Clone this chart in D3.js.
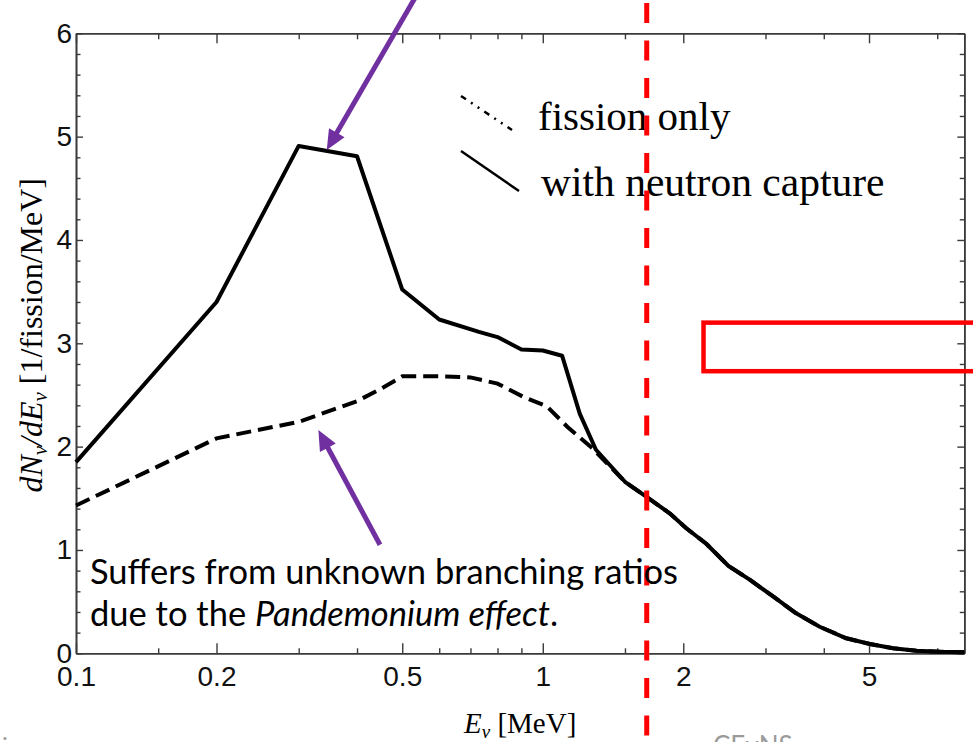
<!DOCTYPE html>
<html>
<head>
<meta charset="utf-8">
<script src="https://cdn.jsdelivr.net/npm/d3@7"></script>
<style>
  body { margin: 0; background: #fff; }
  svg { display: block; }
</style>
</head>
<body>
<script>
// neutrino spectrum
const energyCapture = [0.1, 0.2, 0.3, 0.4, 0.5, 0.6, 0.73, 0.8, 0.9, 1.0, 1.1, 1.2, 1.3, 1.5, 1.66, 1.87, 2.03, 2.24, 2.5, 2.78, 3.12, 3.49, 3.92, 4.47, 5.02, 5.63, 6.32, 7.09, 8.0]
const fluxCapture = [1.85, 3.40, 4.91, 4.81, 3.52, 3.23, 3.11, 3.06, 2.94, 2.93, 2.88, 2.32, 1.97, 1.66, 1.52, 1.355, 1.21, 1.06, 0.845, 0.71, 0.548, 0.387, 0.257, 0.145, 0.09, 0.048, 0.025, 0.015, 0.01]

const energyFission = [0.1, 0.2, 0.3, 0.4, 0.45, 0.5, 0.6, 0.7, 0.8, 0.91, 1.02, 1.13, 1.28, 1.5, 1.66, 1.87, 2.03, 2.24, 2.5, 2.78, 3.12, 3.49, 3.92, 4.47, 5.02, 5.63, 6.32, 7.09, 8.0]
const fluxFission = [1.43, 2.08, 2.24, 2.44, 2.56, 2.68, 2.68, 2.67, 2.61, 2.48, 2.39, 2.19, 1.98, 1.66, 1.52, 1.355, 1.21, 1.06, 0.845, 0.71, 0.548, 0.387, 0.257, 0.145, 0.09, 0.048, 0.025, 0.015, 0.01]

const xMajorTicks = [0.1, 0.2, 0.5, 1, 2, 5]
const xMinorTicks = [0.15, 0.3, 0.4, 0.6, 0.7, 0.8, 0.9, 1.5, 3, 4, 7]
const yMajorTicks = [0, 1, 2, 3, 4, 5, 6]
const yMinorTicks = d3.range(0, 30).map(i => i / 5).filter(v => v % 1 !== 0)

const legendLabels = ['fission only', 'with neutron capture']
const noteLines = ['Suffers from unknown branching ratios', 'due to the ']

// annotations in data coordinates
const thresholdE = 1.67
const arrows = [
    { from: [0.532, 6.34], to: [0.3445, 4.87] },
    { from: [0.448, 1.05], to: [0.3306, 2.16] }
]
const boxE = [2.21, 12]
const boxFlux = [2.73, 3.2]

const w = 973
const h = 742
const pLeft = 76
const pRight = 964.3
const pTop = 33.3
const pBottom = 653.3

const x = d3.scaleLog().domain([0.1, 8]).range([pLeft, pRight])
const y = d3.scaleLinear().domain([0, 6]).range([pBottom, pTop])

const svg = d3.select('body').append('svg')
    .attr('width', w)
    .attr('height', h)

const axisColor = '#3a3a3a'

function styleAxis(g) {
    g.select('.domain').attr('stroke', axisColor).attr('stroke-width', 1.6)
    g.selectAll('.tick line').attr('stroke', axisColor).attr('stroke-width', 1.4)
    g.selectAll('.tick text')
        .attr('fill', '#111')
        .style('font-family', '"Liberation Sans", Arial, sans-serif')
        .style('font-size', '28px')
}

// bottom axis
svg.append('g')
    .attr('transform', `translate(0,${pBottom})`)
    .call(d3.axisBottom(x).tickValues(xMajorTicks).tickFormat(d3.format('')).tickSize(-10).tickSizeOuter(0).tickPadding(13))
    .call(styleAxis)
svg.append('g')
    .attr('transform', `translate(0,${pBottom})`)
    .call(d3.axisBottom(x).tickValues(xMinorTicks).tickFormat('').tickSize(-5).tickSizeOuter(0))
    .call(styleAxis)

// top axis
svg.append('g')
    .attr('transform', `translate(0,${pTop})`)
    .call(d3.axisTop(x).tickValues(xMajorTicks).tickFormat('').tickSize(-10).tickSizeOuter(0))
    .call(styleAxis)
svg.append('g')
    .attr('transform', `translate(0,${pTop})`)
    .call(d3.axisTop(x).tickValues(xMinorTicks).tickFormat('').tickSize(-6).tickSizeOuter(0))
    .call(styleAxis)

// left axis
svg.append('g')
    .attr('transform', `translate(${pLeft},0)`)
    .call(d3.axisLeft(y).tickValues(yMajorTicks).tickFormat(d3.format('d')).tickSize(-7).tickSizeOuter(0).tickPadding(4))
    .call(styleAxis)
svg.append('g')
    .attr('transform', `translate(${pLeft},0)`)
    .call(d3.axisLeft(y).tickValues(yMinorTicks).tickFormat('').tickSize(-4.5).tickSizeOuter(0))
    .call(styleAxis)

// right axis
svg.append('g')
    .attr('transform', `translate(${pRight},0)`)
    .call(d3.axisRight(y).tickValues(yMajorTicks).tickFormat('').tickSize(-7).tickSizeOuter(0))
    .call(styleAxis)
svg.append('g')
    .attr('transform', `translate(${pRight},0)`)
    .call(d3.axisRight(y).tickValues(yMinorTicks).tickFormat('').tickSize(-4.5).tickSizeOuter(0))
    .call(styleAxis)

// curves
const line = d3.line()
    .x(d => x(d[0]))
    .y(d => y(d[1]))

svg.append('path')
    .datum(d3.zip(energyFission, fluxFission))
    .attr('d', line)
    .attr('fill', 'none')
    .attr('stroke', '#000')
    .attr('stroke-width', 4)
    .attr('stroke-dasharray', '15,7')

svg.append('path')
    .datum(d3.zip(energyCapture, fluxCapture))
    .attr('d', line)
    .attr('fill', 'none')
    .attr('stroke', '#000')
    .attr('stroke-width', 4)
    .attr('stroke-linejoin', 'round')

// axis labels
const serif = '"Liberation Serif", "Times New Roman", serif'

const xLabel = svg.append('text')
    .attr('x', (pLeft + pRight) / 2)
    .attr('y', 733)
    .attr('text-anchor', 'middle')
    .style('font-family', serif)
    .style('font-size', '29px')
xLabel.append('tspan').style('font-style', 'italic').text('E')
xLabel.append('tspan').style('font-style', 'italic').style('font-size', '19px').attr('dy', 5).text('ν')
xLabel.append('tspan').attr('dy', -5).text(' [MeV]')

const yLabel = svg.append('text')
    .attr('transform', `translate(42,${(pTop + pBottom) / 2 - 8}) rotate(-90)`)
    .attr('text-anchor', 'middle')
    .style('font-family', serif)
    .style('font-size', '32px')
yLabel.append('tspan').style('font-style', 'italic').text('dN')
yLabel.append('tspan').style('font-style', 'italic').style('font-size', '21px').attr('dy', 5).text('ν')
yLabel.append('tspan').style('font-style', 'italic').attr('dy', -5).text('/dE')
yLabel.append('tspan').style('font-style', 'italic').style('font-size', '21px').attr('dy', 5).text('ν')
yLabel.append('tspan').attr('dy', -5).text(' [1/fission/MeV]')

// legend
svg.append('line')
    .attr('x1', 461).attr('y1', 96).attr('x2', 512).attr('y2', 130)
    .attr('stroke', '#000').attr('stroke-width', 2.5)
    .attr('stroke-dasharray', '6,6,2,6,2,6')
svg.append('line')
    .attr('x1', 461).attr('y1', 151).attr('x2', 519).attr('y2', 191)
    .attr('stroke', '#000').attr('stroke-width', 2.5)

svg.append('text')
    .attr('x', 538).attr('y', 130)
    .style('font-family', serif).style('font-size', '41px')
    .text(legendLabels[0])
svg.append('text')
    .attr('x', 541).attr('y', 196)
    .style('font-family', serif).style('font-size', '41.5px')
    .text(legendLabels[1])

// red threshold line and box
svg.append('line')
    .attr('x1', x(thresholdE)).attr('x2', x(thresholdE))
    .attr('y1', 3).attr('y2', h)
    .attr('stroke', '#ff0000')
    .attr('stroke-width', 5)
    .attr('stroke-dasharray', '20,17.5')

svg.append('rect')
    .attr('x', x(boxE[0]))
    .attr('y', y(boxFlux[1]))
    .attr('width', x(boxE[1]) - x(boxE[0]))
    .attr('height', y(boxFlux[0]) - y(boxFlux[1]))
    .attr('fill', 'none')
    .attr('stroke', '#ff0000')
    .attr('stroke-width', 4.5)

// purple arrows
const purple = '#7030a0'
arrows.forEach(a => {
    const x0 = x(a.from[0]), y0 = y(a.from[1])
    const x1 = x(a.to[0]), y1 = y(a.to[1])
    const len = Math.hypot(x1 - x0, y1 - y0)
    const ux = (x1 - x0) / len, uy = (y1 - y0) / len
    const headLen = 20, headW = 9
    const bx = x1 - ux * headLen, by = y1 - uy * headLen
    svg.append('line')
        .attr('x1', x0).attr('y1', y0)
        .attr('x2', bx + ux * 2).attr('y2', by + uy * 2)
        .attr('stroke', purple)
        .attr('stroke-width', 5)
    svg.append('path')
        .attr('d', `M${x1},${y1} L${bx - uy * headW},${by + ux * headW} L${bx + uy * headW},${by - ux * headW} Z`)
        .attr('fill', purple)
})

// note text
const sans = 'Lato, "Open Sans", sans-serif'
svg.append('text')
    .attr('x', 90).attr('y', 584)
    .style('font-family', sans).style('font-size', '34.5px')
    .text(noteLines[0])
const note2 = svg.append('text')
    .attr('x', 90).attr('y', 626)
    .style('font-family', sans).style('font-size', '34.5px')
note2.append('tspan').text(noteLines[1])
note2.append('tspan').style('font-style', 'italic').text('Pandemonium effect')
note2.append('tspan').text('.')

// slide leftovers at the bottom edge
svg.append('text')
    .attr('x', 2).attr('y', 754)
    .style('font-family', sans).style('font-size', '24px').attr('fill', '#9a9a9a')
    .text('ice')
svg.append('text')
    .attr('x', 713).attr('y', 755)
    .style('font-family', sans).style('font-size', '26px').attr('fill', '#9a9a9a')
    .text('CEνNS')
</script>
</body>
</html>
